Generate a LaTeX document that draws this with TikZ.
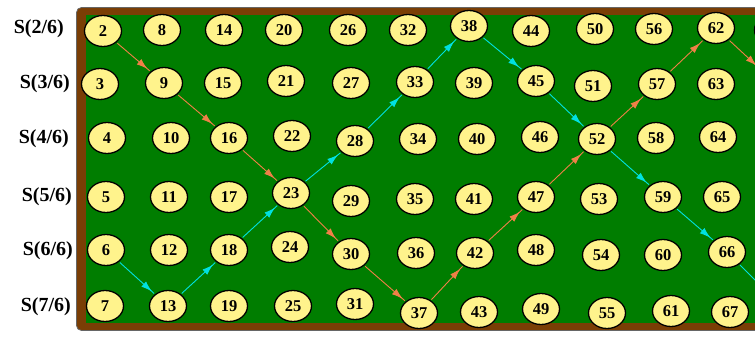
\documentclass[tikz,border=0pt]{standalone}
\usepackage{fontspec}
\setmainfont{Liberation Serif}
\usetikzlibrary{shapes.geometric,arrows.meta,decorations.markings}
\definecolor{boardgreen}{RGB}{0,125,0}
\definecolor{framebrown}{RGB}{122,62,5}
\definecolor{ballyellow}{RGB}{255,243,140}
\definecolor{arrorange}{RGB}{240,128,72}
\definecolor{arrcyan}{RGB}{0,225,225}
\tikzset{
  ball/.style={ellipse, draw=black, line width=1.3pt, fill=ballyellow,
    minimum width=37pt, minimum height=31pt, inner sep=0pt,
    font=\fontsize{16.5}{16.5}\selectfont\bfseries},
  ghost/.style={ellipse, minimum width=37pt, minimum height=31pt, inner sep=0pt},
  lbl/.style={anchor=east, inner sep=0pt, font=\fontsize{20}{20}\selectfont\bfseries},
  flow/.style={line width=0.9pt, shorten <=1pt, shorten >=1pt,
    postaction={decorate},
    decoration={markings, mark=at position -4pt with {\arrow{Latex[length=11pt,width=7pt]}}}},
  oflow/.style={flow, draw=arrorange},
  cflow/.style={flow, draw=arrcyan}
}
\begin{document}
\begin{tikzpicture}[x=1pt,y=-1pt]
\useasboundingbox (0,0) rectangle (755,338);
\clip (0,0) rectangle (755,338);
\fill[white] (0,0) rectangle (755,338);
% board
\draw[black!60, line width=0.8pt, fill=framebrown, rounded corners=5pt] (76.5,7.5) rectangle (830,330.5);
\fill[boardgreen] (86,15) rectangle (830,322.5);
% labels
\node[lbl] (s2) at (64,29) {S(2/6)};
\node[lbl] (s3) at (70,84) {S(3/6)};
\node[lbl] (s4) at (69,139) {S(4/6)};
\node[lbl] (s5) at (72,197) {S(5/6)};
\node[lbl] (s6) at (73,251) {S(6/6)};
\node[lbl] (s7) at (71,307) {S(7/6)};
% balls
\foreach \i/\x/\y in {
 2/103/31, 3/100/84, 4/107/138, 5/106/197, 6/106/250, 7/105/306,
 8/162/30, 9/164/83, 10/171/138, 11/169/197, 12/169/250, 13/168/306,
 14/224/30, 15/223/83, 16/229/138, 17/229/197, 18/229/250, 19/229/306,
 20/284/30, 21/286/81, 22/292/136, 23/291/193, 24/290/247, 25/293/306,
 26/348/30, 27/351/83, 28/355/141, 29/351/201, 30/351/254, 31/355/304,
 32/408/30, 33/415/82, 34/418/139, 35/415/199, 36/416/253, 37/419/313,
 38/469/26, 39/474/83, 40/477/139, 41/474/199, 42/475/253, 43/479/312,
 44/531/31, 45/536/81, 46/540/137, 47/536/197, 48/536/250, 49/541/309,
 50/595/29, 51/593/86, 52/597/139, 53/599/199, 54/601/255, 55/607/313,
 56/654/29, 57/657/84, 58/656/138, 59/663/197, 60/663/255, 61/671/311,
 62/716/28, 63/716/84, 64/718/137, 65/722/197, 66/727/252, 67/730/312}
{\node[ball] (n\i) at (\x,\y) {\i};}
\node[ball] (n68) at (773,30) {};
\node[ghost] (n69) at (772,80) {};
\node[ghost] (n73) at (787,312) {};
% orange path
\draw[oflow] (n2) -- (n9);
\draw[oflow] (n9) -- (n16);
\draw[oflow] (n16) -- (n23);
\draw[oflow] (n23) -- (n30);
\draw[oflow] (n30) -- (n37);
\draw[oflow] (n37) -- (n42);
\draw[oflow] (n42) -- (n47);
\draw[oflow] (n47) -- (n52);
\draw[oflow] (n52) -- (n57);
\draw[oflow] (n57) -- (n62);
\draw[oflow] (n62) -- (n69);
% cyan path
\draw[cflow] (n6) -- (n13);
\draw[cflow] (n13) -- (n18);
\draw[cflow] (n18) -- (n23);
\draw[cflow] (n23) -- (n28);
\draw[cflow] (n28) -- (n33);
\draw[cflow] (n33) -- (n38);
\draw[cflow] (n38) -- (n45);
\draw[cflow] (n45) -- (n52);
\draw[cflow] (n52) -- (n59);
\draw[cflow] (n59) -- (n66);
\draw[cflow] (n66) -- (n73);
\end{tikzpicture}
\end{document}
